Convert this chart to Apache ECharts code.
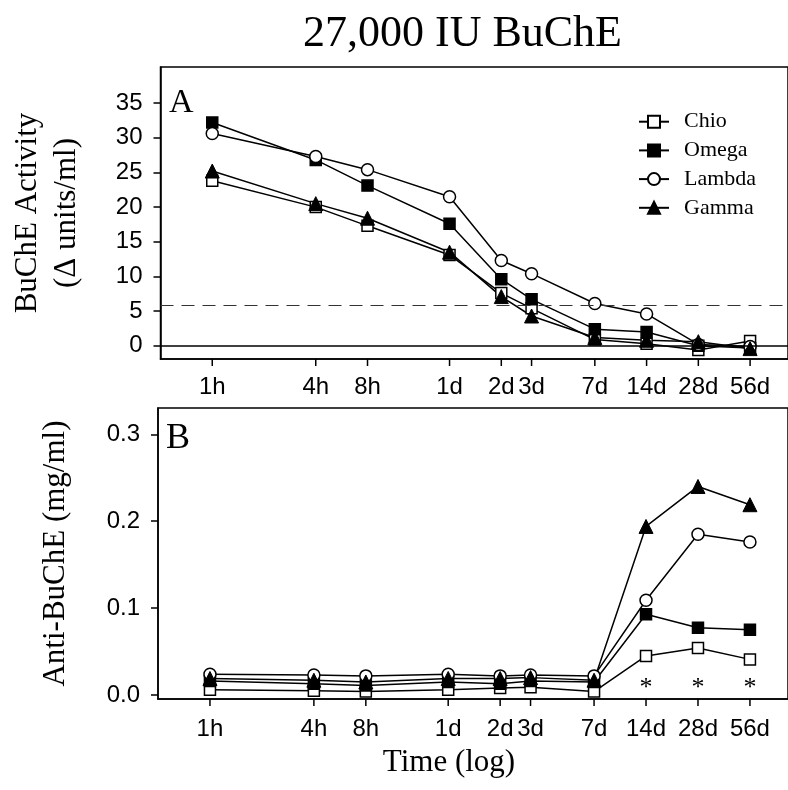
<!DOCTYPE html>
<html><head><meta charset="utf-8">
<script src="https://cdn.jsdelivr.net/npm/echarts@6/dist/echarts.min.js"></script>
<style>html,body{margin:0;padding:0;background:#fff}#chart{width:788px;height:790px}</style>
</head><body><div id="chart"></div>
<script>
// ---- data ----
const hours = [1, 4, 8, 24, 48, 72, 168, 336, 672, 1344];
const tickLabels = ['1h', '4h', '8h', '1d', '2d', '3d', '7d', '14d', '28d', '56d'];
const seriesNames = ['Chio', 'Omega', 'Lambda', 'Gamma'];

// Panel A: BuChE activity (Δ units/ml)
const chioA   = [23.8, 20.0, 17.3, 13.1, 7.6, 5.4, 0.9, 0.3, -0.6, 0.7];
const omegaA  = [32.2, 26.8, 23.1, 17.6, 9.6, 6.7, 2.4, 2.0, 0.0, -0.3];
const lambdaA = [30.6, 27.3, 25.4, 21.5, 12.3, 10.4, 6.1, 4.6, 0.2, -0.1];
const gammaA  = [25.2, 20.5, 18.4, 13.5, 7.1, 4.3, 1.2, 0.8, 0.6, -0.4];
const thresholdA = 5.9;
const yTicksA = [0, 5, 10, 15, 20, 25, 30, 35];

// Panel B: Anti-BuChE (mg/ml)
const chioB   = [0.006, 0.005, 0.004, 0.006, 0.008, 0.009, 0.004, 0.045, 0.054, 0.041];
const omegaB  = [0.016, 0.013, 0.011, 0.015, 0.013, 0.016, 0.015, 0.093, 0.0775, 0.075];
const lambdaB = [0.024, 0.023, 0.022, 0.024, 0.022, 0.023, 0.022, 0.109, 0.185, 0.176];
const gammaB  = [0.019, 0.017, 0.015, 0.019, 0.019, 0.020, 0.017, 0.194, 0.240, 0.219];
const yTicksB = [0, 0.1, 0.2, 0.3];
const asteriskHours = [336, 672, 1344];
const asteriskLevel = 0.013;

// ---- styling helpers ----
const SERIF = "'Liberation Serif', 'Times New Roman', serif";
const SANS = "'Liberation Sans', Arial, sans-serif";
const X_MIN = 0.5, X_MAX = 2233;
const Y_A = [-1.9, 40.2];
const Y_B = [-0.0046, 0.3303];

const markerStyles = {
  Chio:   {symbol: 'rect', symbolSize: 11, itemStyle: {color: '#fff', borderColor: '#000', borderWidth: 1.5}},
  Omega:  {symbol: 'rect', symbolSize: 11, itemStyle: {color: '#000', borderColor: '#000', borderWidth: 1.5}},
  Lambda: {symbol: 'circle', symbolSize: 12, itemStyle: {color: '#fff', borderColor: '#000', borderWidth: 1.5}},
  Gamma:  {symbol: 'triangle', symbolSize: 14, itemStyle: {color: '#000', borderColor: '#000', borderWidth: 1}}
};

function zip(xs, ys) { return xs.map((x, i) => [x, ys[i]]); }

function lineSeries(name, values, gi, extra) {
  const m = markerStyles[name];
  return Object.assign({
    name: name, type: 'line', xAxisIndex: gi, yAxisIndex: gi,
    data: zip(hours, values),
    symbol: m.symbol, symbolSize: m.symbolSize, itemStyle: m.itemStyle,
    lineStyle: {color: '#000', width: 1.5},
    showSymbol: true, animation: false, z: 3
  }, extra || {});
}

function tickSeries(gi, yMin, labelOffset) {
  return {
    type: 'custom', xAxisIndex: gi, yAxisIndex: gi, silent: true, animation: false,
    clip: false, z: 5,
    data: hours.map(h => [h]),
    renderItem: function (params, api) {
      const p = api.coord([api.value(0), yMin]);
      return {type: 'group', children: [
        {type: 'line', shape: {x1: p[0], y1: p[1], x2: p[0], y2: p[1] + 7},
         style: {stroke: '#000', lineWidth: 1.5}},
        {type: 'text', x: p[0], y: p[1] + labelOffset,
         style: {text: tickLabels[params.dataIndex], fill: '#000', fontSize: 24,
                 fontFamily: SANS, align: 'center', verticalAlign: 'middle'}}
      ]};
    }
  };
}

function yAxisCommon(gi, range, ticks, fmt, name, nameGap, lineHeight) {
  return {
    type: 'value', gridIndex: gi, min: range[0], max: range[1],
    axisLine: {show: true, lineStyle: {color: '#000', width: 1.5}},
    axisTick: {show: true, length: 7, customValues: ticks, lineStyle: {color: '#000', width: 1.5}},
    axisLabel: {show: true, customValues: ticks, formatter: fmt, color: '#000', fontSize: 24,
                fontFamily: SANS, margin: 18},
    splitLine: {show: false},
    name: name, nameLocation: 'middle', nameRotate: 90, nameGap: nameGap,
    nameTextStyle: {fontFamily: SERIF, fontSize: 31, color: '#000', lineHeight: lineHeight}
  };
}

function xAxisCommon(gi, extra) {
  return Object.assign({
    type: 'log', logBase: 10, gridIndex: gi, min: X_MIN, max: X_MAX,
    axisLine: {show: true, onZero: false, lineStyle: {color: '#000', width: 1.5}},
    axisTick: {show: false}, axisLabel: {show: false},
    splitLine: {show: false}, minorTick: {show: false}, minorSplitLine: {show: false}
  }, extra || {});
}

const option = {
  backgroundColor: '#fff',
  animation: false,
  title: {
    text: '27,000 IU BuChE', left: 298, top: 7,
    textStyle: {fontFamily: SERIF, fontSize: 44, fontWeight: 'normal', color: '#000'}
  },
  legend: {
    orient: 'vertical', left: 633, top: 105.7,
    data: seriesNames, itemWidth: 30, itemHeight: 15, itemGap: 6.7,
    textStyle: {fontFamily: SERIF, fontSize: 22, color: '#000', lineHeight: 22, padding: [0, 0, 0, 10]},
    selectedMode: false
  },
  grid: [
    {left: 158, top: 67, right: -2, height: 292, show: true, borderColor: '#000', borderWidth: 1.5, backgroundColor: 'transparent'},
    {left: 158, top: 408, right: -2, height: 291, show: true, borderColor: '#000', borderWidth: 1.5, backgroundColor: 'transparent'}
  ],
  xAxis: [
    xAxisCommon(0),
    xAxisCommon(1, {
      name: 'Time (log)', nameLocation: 'middle', nameGap: 48.5,
      nameTextStyle: {fontFamily: SERIF, fontSize: 31, color: '#000', lineHeight: 31, padding: [0, 48, 0, 0]}
    })
  ],
  yAxis: [
    yAxisCommon(0, Y_A, yTicksA, v => String(v), 'BuChE Activity\n(\u0394 units/ml)', 74.5, 39),
    yAxisCommon(1, Y_B, yTicksB, v => Number(v).toFixed(1), 'Anti-BuChE (mg/ml)', 86.5, 31)
  ],
  graphic: [
    {type: 'text', left: 169, top: 86, style: {text: 'A', fontFamily: SERIF, fontSize: 34, fill: '#000'}},
    {type: 'text', left: 166, top: 421, style: {text: 'B', fontFamily: SERIF, fontSize: 36, fill: '#000'}}
  ],
  series: [
    lineSeries('Chio', chioA, 0, {
      markLine: {
        silent: true, symbol: 'none', label: {show: false}, animation: false,
        data: [
          {yAxis: 0, lineStyle: {color: '#000', width: 1.5, type: 'solid'}},
          {yAxis: thresholdA, lineStyle: {color: '#333', width: 1.2, type: [13, 8]}}
        ]
      }
    }),
    lineSeries('Omega', omegaA, 0),
    lineSeries('Lambda', lambdaA, 0),
    lineSeries('Gamma', gammaA, 0),
    lineSeries('Chio', chioB, 1),
    lineSeries('Omega', omegaB, 1),
    lineSeries('Lambda', lambdaB, 1),
    lineSeries('Gamma', gammaB, 1),
    tickSeries(0, Y_A[0], 28.5),
    tickSeries(1, Y_B[0], 30.5),
    {
      type: 'custom', xAxisIndex: 1, yAxisIndex: 1, silent: true, animation: false, clip: false,
      data: asteriskHours.map(h => [h, asteriskLevel]),
      renderItem: function (params, api) {
        const p = api.coord([api.value(0), api.value(1)]);
        return {type: 'text', x: p[0], y: p[1] + 4,
          style: {text: '*', fill: '#000', fontSize: 26, fontFamily: SERIF, align: 'center', verticalAlign: 'middle'}};
      }
    }
  ]
};

const chart = echarts.init(document.getElementById('chart'), null, {renderer: 'canvas'});
chart.setOption(option);
</script>
</body></html>
